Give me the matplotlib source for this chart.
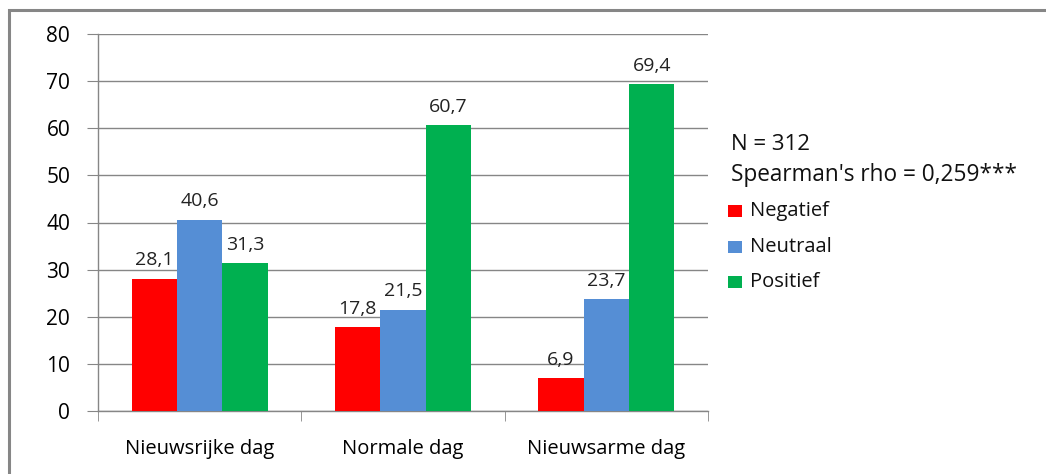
import matplotlib.pyplot as plt
import numpy as np
from matplotlib.patches import Rectangle

plt.rcParams['font.family'] = ['Open Sans', 'DejaVu Sans']

categories = ['Nieuwsrijke dag', 'Normale dag', 'Nieuwsarme dag']
series = ['Negatief', 'Neutraal', 'Positief']
values = {
    'Negatief': [28.1, 17.8, 6.9],
    'Neutraal': [40.6, 21.5, 23.7],
    'Positief': [31.3, 60.7, 69.4],
}
colors = {'Negatief': '#ff0000', 'Neutraal': '#558ed5', 'Positief': '#00b050'}
yticks = [0, 10, 20, 30, 40, 50, 60, 70, 80]


def fmt(v):
    return f'{v:.1f}'.replace('.', ',')


def main():
    W, H = 1046, 474
    fig = plt.figure(figsize=(W / 100, H / 100), dpi=100)
    fig.patch.set_facecolor('white')

    # chart area frame (only top/left edges fall inside the canvas)
    fig.patches.append(Rectangle((9 / W, -0.1), 1.2, 1 - 10 / H + 0.1,
                                 transform=fig.transFigure, fill=False,
                                 edgecolor='#868686', linewidth=2.2))

    ax = fig.add_axes([98 / W, 1 - 411 / H, 610 / W, 377 / H])
    x = np.arange(len(categories))
    width = 0.223

    for i, s in enumerate(series):
        pos = x + (i - 1) * width
        ax.bar(pos, values[s], width, color=colors[s], zorder=3, label=s)
        for px, v in zip(pos, values[s]):
            ax.text(px, v + 2.0, fmt(v), ha='center', va='bottom',
                    fontsize=14, color='#222222', zorder=4)

    ax.set_xlim(-0.5, len(categories) - 0.5)
    ax.set_ylim(0, 80)
    ax.set_yticks(yticks)
    ax.set_yticklabels([str(t) for t in yticks])
    ax.yaxis.grid(True, color='#868686', linewidth=1)
    ax.set_axisbelow(True)

    ax.set_xticks(x)
    ax.set_xticklabels(categories)
    ax.set_xticks(np.arange(len(categories) + 1) - 0.5, minor=True)
    ax.tick_params(axis='x', which='major', length=0, pad=20, labelsize=14.5)
    ax.tick_params(axis='x', which='minor', length=7, color='#868686')
    ax.tick_params(axis='y', length=8, color='#868686', pad=12, labelsize=15)

    for side in ['top', 'right']:
        ax.spines[side].set_visible(False)
    for side in ['left', 'bottom']:
        ax.spines[side].set_color('#868686')
        ax.spines[side].set_linewidth(1)

    fig.text(731 / W, 1 - 145 / H, 'N = 312', fontsize=16, va='center',
             color='#111111')
    fig.text(731 / W, 1 - 175 / H, "Spearman's rho = 0,259***", fontsize=16.3,
             va='center', color='#111111')
    for k, s in enumerate(series):
        yc = 211 + k * 35.5
        fig.patches.append(Rectangle((728 / W, 1 - (yc + 6) / H), 14 / W, 12 / H,
                                     transform=fig.transFigure,
                                     facecolor=colors[s], edgecolor='none'))
        fig.text(750 / W, 1 - yc / H, s, fontsize=14.5, va='center',
                 color='#111111')

    fig.savefig('out.png', dpi=100)


if __name__ == '__main__':
    main()
